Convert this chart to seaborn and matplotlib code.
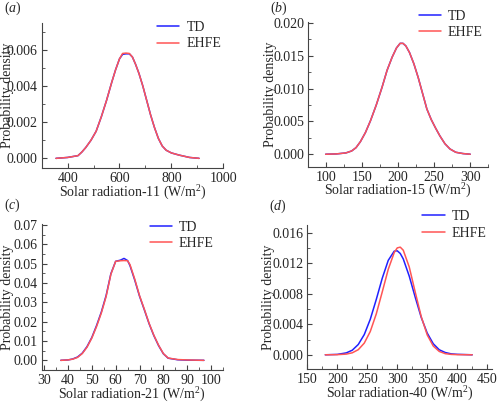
import numpy as np
import pandas as pd
import matplotlib
matplotlib.use('Agg')
import matplotlib.pyplot as plt
from matplotlib.ticker import AutoMinorLocator, FormatStrFormatter
import seaborn as sns

# ---- data (probability density curves) ----
# (a) Solar radiation-11
x_a = [355, 400, 440, 455, 470, 490, 510, 530, 550, 570, 585, 600, 612, 625,
       638, 650, 662, 675, 690, 705, 720, 735, 750, 765, 780, 800, 830, 870, 907]
td_a = [0, 0.00005, 0.00015, 0.00035, 0.0006, 0.0010, 0.0015, 0.0023, 0.0032,
        0.0042, 0.0049, 0.0055, 0.00575, 0.00578, 0.00578, 0.0056, 0.0052,
        0.0047, 0.0040, 0.0032, 0.0024, 0.0017, 0.0011, 0.00068, 0.00045,
        0.0003, 0.00018, 0.00005, 0.0]
ehfe_a = [0, 0.00005, 0.00015, 0.00035, 0.0006, 0.0010, 0.0015, 0.0023, 0.0032,
          0.0042, 0.0049, 0.0055, 0.0058, 0.00582, 0.0058, 0.0056, 0.0052,
          0.0047, 0.0040, 0.0032, 0.0024, 0.0017, 0.0011, 0.00068, 0.00045,
          0.0003, 0.00018, 0.00005, 0.0]

# (b) Solar radiation-15
x_b = [100, 115, 128, 136, 142, 148, 155, 162, 170, 178, 185, 192, 198, 203,
       207, 211, 216, 222, 228, 234, 240, 246, 252, 258, 265, 272, 280, 290, 300]
td_b = [0, 0.00005, 0.0002, 0.0005, 0.0010, 0.0019, 0.0033, 0.0051, 0.0075,
        0.0102, 0.0128, 0.0148, 0.0162, 0.0169, 0.0169, 0.0165, 0.0155,
        0.0138, 0.0117, 0.0093, 0.0069, 0.0053, 0.0040, 0.0028, 0.0016,
        0.0008, 0.0003, 0.0001, 0.0]
ehfe_b = td_b

# (c) Solar radiation-21
x_c = [37, 40, 42, 44, 46, 48, 50, 52, 54, 56, 58, 60, 62, 63.5, 65, 66, 68,
       70, 72, 74, 76, 78, 80, 82, 86, 90, 97]
td_c = [0, 0.0002, 0.0007, 0.0017, 0.0037, 0.0071, 0.0118, 0.0180, 0.0250,
        0.0335, 0.0448, 0.0512, 0.0518, 0.0527, 0.0516, 0.0490, 0.0415,
        0.0332, 0.0262, 0.0190, 0.0128, 0.0076, 0.0034, 0.0011, 0.0003,
        0.0001, 0.0]
ehfe_c = [0, 0.0002, 0.0006, 0.0015, 0.0035, 0.0068, 0.0115, 0.0175, 0.0245,
          0.0330, 0.0445, 0.0512, 0.0515, 0.0516, 0.0515, 0.0495, 0.0420,
          0.0335, 0.0265, 0.0192, 0.0130, 0.0078, 0.0035, 0.0012, 0.0004,
          0.0002, 0.0]

# (d) Solar radiation-40
x_d = [180, 200, 215, 225, 235, 245, 255, 265, 275, 285, 295, 300, 305, 310,
       320, 330, 340, 350, 360, 370, 380, 390, 400, 425]
td_d = [0, 0.00005, 0.00025, 0.0006, 0.00135, 0.00265, 0.00465, 0.00724,
        0.01003, 0.01237, 0.01358, 0.01362, 0.01327, 0.01256, 0.0103,
        0.00753, 0.00489, 0.00284, 0.00145, 0.00066, 0.0003, 0.00012,
        0.00006, 0.0]
ehfe_d = [0, 0.00002, 0.00009, 0.00026, 0.00067, 0.00153, 0.00305, 0.00535,
          0.00824, 0.0112, 0.0134, 0.0140, 0.0141, 0.0137, 0.0115, 0.0082,
          0.0050, 0.0026, 0.00115, 0.00044, 0.00015, 0.00005, 0.00002, 0.0]

sns.set_style('ticks')
plt.rcParams['font.family'] = ['Liberation Serif', 'DejaVu Serif']
plt.rcParams['mathtext.fontset'] = 'custom'
plt.rcParams['mathtext.rm'] = 'Liberation Serif'
plt.rcParams['mathtext.it'] = 'Liberation Serif:italic'

blue = '#2020ff'
red = '#ff5555'
fs = 10

fig = plt.figure(figsize=(5, 4.05), dpi=100)
W, H = 500, 405


def make_ax(l, t, r, b):
    return fig.add_axes([l / W, 1 - b / H, (r - l) / W, (b - t) / H])


panels = [
    # rect px, x, td, ehfe, xlim, xticks, ylim, yticks, fmt, number, tag, ylabel x, legend anchor, tag y
    ((41.7, 22.7, 223.2, 168.3), x_a, td_a, ehfe_a, (300, 1000), [400, 600, 800, 1000],
     (-0.00055, 0.0075), [0, 0.002, 0.004, 0.006], '%.3f', '11', 'a', -0.153, (1.02, 1.05), 1.10),
    ((308.3, 21.7, 488.3, 166.7), x_b, td_b, ehfe_b, (76, 325), [100, 150, 200, 250, 300],
     (-0.0019, 0.0202), [0, 0.005, 0.010, 0.015, 0.020], '%.3f', '15', 'b', -0.174, (1.0, 1.12), 1.09),
    ((41.7, 224, 223, 370), x_c, td_c, ehfe_c, (29, 105), [30, 40, 50, 60, 70, 80, 90, 100],
     (-0.005, 0.0705), [0, 0.01, 0.02, 0.03, 0.04, 0.05, 0.06, 0.07], '%.2f', '21', 'c', -0.153, (0.98, 1.06), 1.13),
    ((307.3, 225, 492, 369.3), x_d, td_d, ehfe_d, (150, 458), [150, 200, 250, 300, 350, 400, 450],
     (-0.0019, 0.017), [0, 0.004, 0.008, 0.012, 0.016], '%.3f', '40', 'd', -0.175, (1.0, 1.14), 1.13),
]

for rect, xs, td, ehfe, xlim, xticks, ylim, yticks, fmt, num, tag, ylx, anchor, tagy in panels:
    ax = make_ax(*rect)
    df = pd.DataFrame({'x': xs, 'TD': td, 'EHFE': ehfe})
    sns.lineplot(data=df, x='x', y='TD', ax=ax, color=blue, lw=1.1, label='TD')
    sns.lineplot(data=df, x='x', y='EHFE', ax=ax, color=red, lw=1.1, label='EHFE')

    ax.set_xlim(*xlim)
    ax.set_ylim(*ylim)
    ax.set_xticks(xticks)
    ax.set_yticks(yticks)
    ax.yaxis.set_major_formatter(FormatStrFormatter(fmt))
    ax.xaxis.set_minor_locator(AutoMinorLocator(2))
    ax.yaxis.set_minor_locator(AutoMinorLocator(2))
    ax.tick_params(which='both', direction='in', labelsize=fs, color='#444444', pad=3)
    ax.tick_params(which='major', length=3.5, width=0.8)
    ax.tick_params(which='minor', length=2, width=0.6)
    for s in ['top', 'right']:
        ax.spines[s].set_visible(False)
    for s in ['left', 'bottom']:
        ax.spines[s].set_color('#444444')
        ax.spines[s].set_linewidth(0.8)

    ax.set_xlabel('Solar radiation-' + num + ' (W/m$^2$)', fontsize=fs)
    ax.set_ylabel('Probability density', fontsize=fs)
    ax.xaxis.set_label_coords(0.5, -0.105)
    ax.yaxis.set_label_coords(ylx, 0.5)

    ax.legend(loc='upper right', bbox_to_anchor=anchor, frameon=False,
              fontsize=fs, handlelength=1.6, handletextpad=0.5,
              labelspacing=0.25, borderaxespad=0)

    ax.text(-0.21, tagy, '($' + tag + '$)', transform=ax.transAxes,
            fontsize=fs, ha='left', va='center')

fig.savefig('out.png', dpi=100)
